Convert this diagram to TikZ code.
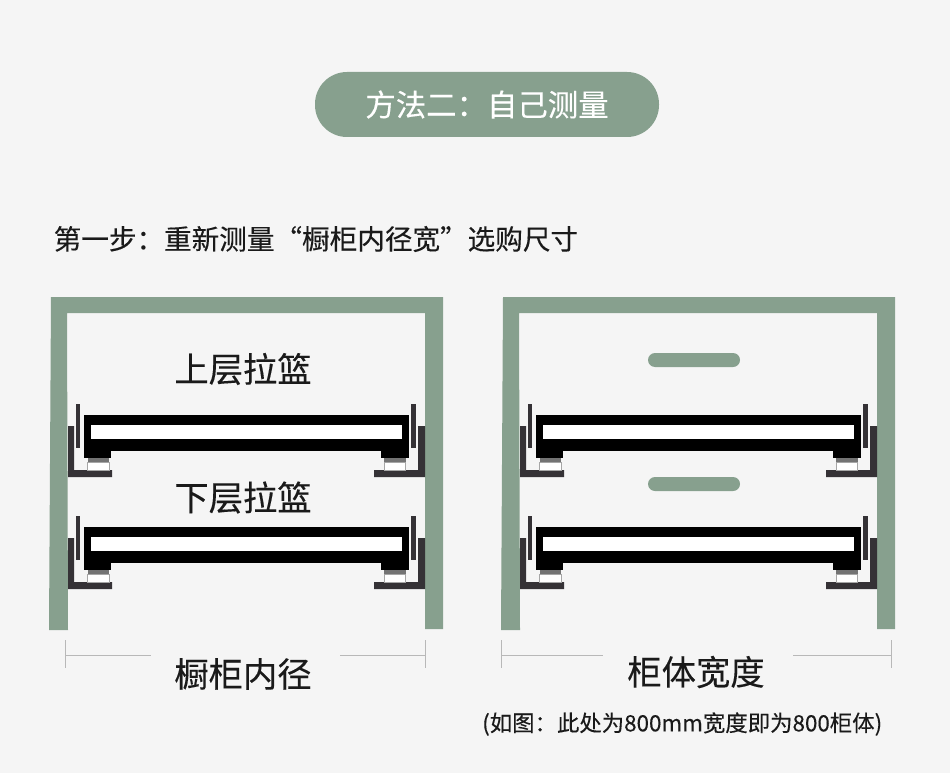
\documentclass[tikz,border=0pt]{standalone}
\usepackage{fontspec}
\setmainfont{Noto Sans CJK SC}
\newfontfamily\heavier[FakeBold=0.25]{Noto Sans CJK SC}
\definecolor{bgc}{HTML}{F5F5F5}
\definecolor{sage}{HTML}{87A08E}
\definecolor{darkc}{HTML}{353236}
\definecolor{txt}{HTML}{1A1A1A}
\tikzset{
  lbl/.style={text=txt,inner sep=0pt,font=\heavier\fontsize{#1}{#1}\selectfont},
  dim/.style={draw=black!28,line width=1pt},
  basket/.pic={
    % L brackets
    \fill[darkc] (68,426) -- (74,426) -- (74,470) -- (112,470) -- (112,477) -- (68,477) -- cycle;
    \fill[darkc] (425,426) -- (418,426) -- (418,470) -- (374,470) -- (374,477) -- (425,477) -- cycle;
    % thin uprights
    \fill[darkc] (76,404) rectangle (80,448);
    \fill[darkc] (411,404) rectangle (416,448);
    % basket frame
    \fill[black] (84,415) rectangle (409,451);
    \fill[white] (91,425) rectangle (402,439);
    \fill[black] (84,451) rectangle (111,458);
    \fill[black] (381,451) rectangle (409,458);
    % runners
    \fill[black!55] (88,458) rectangle (109,462);
    \fill[black!55] (384,458) rectangle (406,462);
    \filldraw[fill=white,draw=black!35,line width=.8pt] (87.7,462) rectangle (109,470);
    \filldraw[fill=white,draw=black!35,line width=.8pt] (384.5,462) rectangle (405.5,470);
  }
}
\begin{document}
\begin{tikzpicture}[x=1pt,y=-1pt]
\useasboundingbox (0,0) rectangle (950,773);
\fill[bgc] (0,0) rectangle (950,773);
% title pill
\fill[sage,rounded corners=32pt] (315,72) rectangle (659,137);
\node[lbl=30.4,text=white] (title) at (487,104.5) {方法二：自己测量};
\node[lbl=27.6,anchor=west] (step) at (53.5,239) {第一步：重新测量“橱柜内径宽”选购尺寸};
% cabinets
\fill[sage] (51,297) -- (443,297) -- (443,629) -- (425,629) -- (425,313) -- (67,313) -- (68,630) -- (49,630) -- cycle;
\fill[sage] (503,297) -- (895,297) -- (895,629) -- (877,629) -- (877,313) -- (519,313) -- (520,630) -- (501,630) -- cycle;
% baskets
\pic at (0,0) {basket};
\pic at (0,112) {basket};
\pic at (452,0) {basket};
\pic at (452,112) {basket};
% labels
\node[lbl=34.3] (upper) at (243,369) {上层拉篮};
\node[lbl=34.3] (lower) at (243,497.5) {下层拉篮};
\fill[sage,rounded corners=7pt] (648,353) rectangle (740,367);
\fill[sage,rounded corners=7pt] (648,477) rectangle (740,491);
% dimensions
\draw[dim] (65.5,640) -- (65.5,668);
\draw[dim] (65.5,655) -- (151,655);
\draw[dim] (425.5,640) -- (425.5,668);
\draw[dim] (340,655) -- (425.5,655);
\draw[dim] (501.5,640) -- (501.5,668);
\draw[dim] (501.5,655) -- (603,655);
\draw[dim] (891.5,640) -- (891.5,668);
\draw[dim] (793,655) -- (891.5,655);
\node[lbl=34.3] (inner) at (243,674) {橱柜内径};
\node[lbl=34.3] (body) at (696,672) {柜体宽度};
\node[lbl=22.4,anchor=west] (note) at (482,724) {(如图：此处为800mm宽度即为800柜体)};
\end{tikzpicture}
\end{document}
